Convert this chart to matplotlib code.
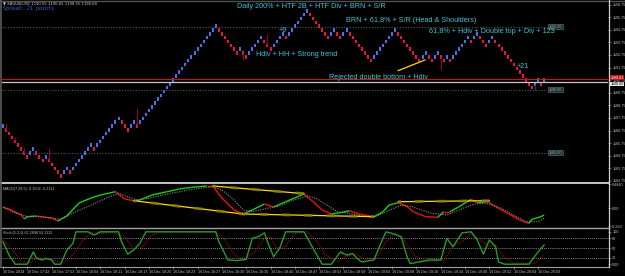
import numpy as np
import matplotlib.pyplot as plt
from matplotlib.lines import Line2D
from matplotlib.collections import LineCollection
from matplotlib.transforms import blended_transform_factory

W, H = 625, 276

# Renko bricks: signed run lengths (+ up brick, - down brick)
brick_runs = [1, -8, 2, -3, 1, -5, 2, -1, 7, -1, 8, -3, 2, -1, 26,
              -7, 1, -2, 5, -3, 4, -1, 7,
              -7, 2, -2, 2, -8, 8, -8, 2, -2, 2, -2, 1, -1, 6,
              -1, 2, -3, 2, -13, 2, -1, 1]
start_price = 1186.80
brick_size = 0.305
wick_bricks = [1, 4, 7, 15, 44, 79, 87, 144, 175]
wick_tips = [1187.35, 1186.22, 1185.37, 1185.37, 1188.54, 1192.32, 1194.43, 1191.53, 1189.94]

price_ticks = [1196.75 - k for k in range(15)]
round_levels = [1195.0, 1190.0, 1185.0]
bid_price = 1190.81
ask_price = 1190.60

# MACD main line and signal, read at brick index
macd_idx = [0, 2, 6, 7, 8, 11, 13, 16, 18, 21, 25, 29, 32, 37, 40, 43, 45, 49, 54, 58,
            62, 67, 69, 72, 76, 79, 82, 86, 89, 93, 99, 102, 105, 108, 111, 114, 117,
            122, 125, 127, 130, 133, 135, 139, 143, 145, 147, 150, 154, 156, 159, 160,
            163, 167, 170, 173, 174, 177, 178]
macd_val = [0.014, -0.020, -0.141, -0.222, -0.175, -0.161, -0.182, -0.202, -0.262,
            -0.161, 0.101, 0.202, 0.262, 0.329, 0.181, 0.147, 0.161, 0.262, 0.329,
            0.383, 0.417, 0.444, 0.444, 0.202, -0.040, -0.121, -0.040, 0.081, 0.020,
            0.127, 0.282, 0.127, -0.040, -0.121, -0.095, -0.054, -0.121, -0.175,
            -0.075, 0.060, 0.107, 0.026, -0.075, -0.175, -0.188, -0.075, -0.075,
            0.026, 0.175, 0.107, 0.127, 0.107, -0.006, -0.141, -0.242, -0.309,
            -0.228, -0.175, -0.141]
sig_idx = [0, 3, 8, 13, 19, 23, 29, 35, 38, 41, 44, 48, 54, 61, 67, 69, 72, 76, 79,
           82, 87, 91, 95, 100, 103, 107, 110, 114, 118, 122, 126, 131, 135, 136,
           141, 146, 150, 155, 159, 164, 168, 172, 176, 178]
sig_val = [0.014, -0.075, -0.175, -0.175, -0.228, -0.101, 0.060, 0.228, 0.296, 0.228,
           0.161, 0.196, 0.282, 0.363, 0.417, 0.430, 0.363, 0.161, -0.040, -0.075,
           -0.006, 0.040, 0.147, 0.242, 0.196, 0.040, -0.075, -0.107, -0.161, -0.188,
           -0.075, 0.060, 0.026, -0.006, -0.107, -0.141, -0.040, 0.081, 0.095,
           -0.006, -0.141, -0.276, -0.276, -0.208]
macd_trend_lines = [((43, 0.147), (79, -0.121)), ((79, -0.121), (122, -0.175)),
                    ((69, 0.444), (99, 0.290)), ((130, 0.127), (160, 0.147))]

# Stochastic main and signal
stoch_idx = [0, 2, 4, 8, 10, 11, 13, 14, 16, 17, 19, 21, 23, 24, 28, 30, 32, 38, 39,
             41, 43, 45, 47, 70, 71, 74, 77, 80, 82, 84, 86, 87, 89, 91, 93, 99, 102,
             105, 108, 111, 113, 115, 117, 118, 122, 125, 126, 128, 131, 133, 134,
             137, 140, 144, 146, 148, 151, 154, 156, 158, 160, 162, 163, 165, 173,
             176, 178]
stoch_val = [69, 28, 0, 0, 38, 18, 13, 18, 13, 0, 0, 44, 64, 100, 100, 90, 100, 100,
             69, 31, 44, 64, 100, 100, 69, 13, 11, 15, 80, 85, 97, 69, 23, 49, 100,
             100, 49, 0, 0, 38, 28, 33, 13, 7, 13, 80, 100, 95, 85, 20, 2, 7, 13, 13,
             80, 54, 97, 100, 75, 31, 75, 54, 7, 0, 0, 38, 59]
ssig_idx = [0, 3, 6, 9, 11, 14, 17, 20, 23, 26, 29, 32, 36, 40, 43, 46, 49, 52, 70,
            73, 76, 79, 83, 86, 88, 90, 93, 96, 100, 103, 106, 110, 113, 116, 119,
            123, 126, 129, 132, 135, 138, 142, 145, 148, 151, 154, 157, 160, 162,
            165, 168, 175, 178]
ssig_val = [75, 45, 10, 3, 20, 18, 12, 3, 30, 70, 97, 95, 98, 85, 45, 55, 90, 100,
            100, 75, 30, 12, 40, 80, 85, 50, 55, 95, 100, 75, 30, 8, 25, 30, 15, 20,
            70, 95, 75, 30, 8, 10, 12, 55, 70, 95, 75, 55, 60, 20, 3, 3, 30]

date_labels = ["16 Dec 2014", "16 Dec 17:42", "16 Dec 17:53", "16 Dec 18:04",
               "16 Dec 18:11", "16 Dec 18:17", "16 Dec 18:20", "16 Dec 18:23",
               "16 Dec 18:27", "16 Dec 18:30", "16 Dec 18:35", "16 Dec 18:40",
               "16 Dec 18:47", "16 Dec 18:53", "16 Dec 18:58", "16 Dec 19:03",
               "16 Dec 19:08", "16 Dec 19:16", "16 Dec 19:24", "16 Dec 19:40",
               "16 Dec 19:52", "16 Dec 20:04", "16 Dec 20:09"]

notes = [("Daily 200% + HTF 2B + HTF Div + BRN + S/R", 77, 1196.58),
         ("BRN + 61,8% + S/R (Head & Shoulders)", 112.7, 1195.46),
         ("61,8% + Hdiv + Double top + Div + 123", 140.1, 1194.59),
         ("+9", 90.8, 1194.67),
         ("Hdiv + HH + Strong trend", 83.2, 1192.80),
         ("+21", 168.8, 1191.81),
         ("Rejected double bottom + Hdiv", 107.2, 1190.97)]

BLUE = "#4a70e8"
RED = "#e8143c"
TEAL = "#3fc3d6"
GRAY = "#c0c0c0"
TINY = 2.7

plt.rcParams['font.family'] = ['Liberation Sans', 'DejaVu Sans']
fig = plt.figure(figsize=(W / 100, H / 100), dpi=100, facecolor="black")

XL = ((2 - 3) / 3.04, (608 - 3) / 3.04)


def panel(x0, y0, x1, y1):
    ax = fig.add_axes([x0 / W, 1 - y1 / H, (x1 - x0) / W, (y1 - y0) / H])
    ax.set_facecolor("black")
    for s in ax.spines.values():
        s.set_visible(False)
    ax.set_xlim(*XL)
    ax.yaxis.tick_right()
    ax.tick_params(axis="y", colors="#808080", labelcolor=GRAY, labelsize=TINY,
                   length=2, width=0.5, pad=1)
    ax.tick_params(axis="x", bottom=False, labelbottom=False)
    return ax


def hline(y, x0, x1, color, lw=1.0):
    fig.add_artist(Line2D([x0 / W, x1 / W], [1 - y / H, 1 - y / H],
                          transform=fig.transFigure, color=color, lw=lw))


# ---- main renko window
ax = panel(2, 2, 608, 182)
ax.set_ylim(1182.663, 1196.95)
steps = np.concatenate([np.full(abs(r), np.sign(r)) for r in brick_runs])
closes = start_price + np.cumsum(steps) * brick_size
idx = np.arange(len(closes))
up = steps > 0

for b, tip in zip(wick_bricks, wick_tips):
    ax.vlines(b, closes[b], tip, color="#1e3c9a" if up[b] else "#8c0a1e", lw=0.8)
ax.bar(idx[up], brick_size * 0.92, bottom=closes[up] - brick_size * 0.46,
       width=0.66, color=BLUE, linewidth=0)
ax.bar(idx[~up], brick_size * 0.92, bottom=closes[~up] - brick_size * 0.46,
       width=0.66, color=RED, linewidth=0)

ax.set_yticks(price_ticks)
ax.set_yticklabels([f"{p:.2f}" for p in price_ticks])

for lvl in round_levels:
    ax.plot([XL[0], 179], [lvl, lvl], color="#4a5a5a", lw=0.8, ls=(0, (1, 1.5)))
    ax.text(179.6, lvl, f"{lvl:.2f}", fontsize=TINY, color="#9aa", va="center",
            ha="left", bbox=dict(facecolor="#1c3232", edgecolor="#4a6a6a", pad=0.6, lw=0.5))
ax.axhline(bid_price, color="#b41e1e", lw=0.9)
ax.axhline(ask_price, color="#c8c8c8", lw=0.9)
tr = blended_transform_factory(ax.transAxes, ax.transData)
ax.text(1.004, bid_price + 0.14, f"{bid_price:.2f}", transform=tr, fontsize=TINY,
        color="white", va="center", ha="left",
        bbox=dict(facecolor="#c01414", edgecolor="none", pad=0.2))
ax.text(1.004, ask_price - 0.16, f"{ask_price:.2f}", transform=tr, fontsize=TINY,
        color="black", va="center", ha="left",
        bbox=dict(facecolor="#e8e8e8", edgecolor="none", pad=0.2))

ax.plot([130, 138.8], [1191.50, 1192.35], color="#ffd700", lw=0.9)
for txt, x, y in notes:
    ax.text(x, y, txt, color=TEAL, fontsize=5.2, va="center", ha="left")

# ---- MACD window
am = panel(2, 184, 608, 226)
am.set_ylim(-0.363, 0.484)
pts = np.column_stack([macd_idx, macd_val])
segs = np.stack([pts[:-1], pts[1:]], axis=1)
cols = ["#18d018" if b > a else "#f01010" for a, b in zip(macd_val[:-1], macd_val[1:])]
am.add_collection(LineCollection(segs, colors=cols, lw=1.0))
am.plot(sig_idx, sig_val, color="#8c8c8c", lw=0.8, ls=(0, (1, 1.2)))
for (xa, ya), (xb, yb) in macd_trend_lines:
    am.plot([xa, xb], [ya, yb], color="#ffd700", lw=0.9)
    am.plot([xa, xb], [ya, yb], color="#8a7a10", lw=2.0, ls=(2, (3, 5)), alpha=0.9)
am.set_yticks([0.484, 0.0, -0.363])
am.set_yticklabels(["0.4840", "0.00", "-0.363"])
am.text(0.002, 0.93, "MACD(7,28,5) -0.1502 -0.2111", transform=am.transAxes,
        fontsize=TINY, color=GRAY, va="top", ha="left")

# ---- Stochastic window
ast = panel(2, 229, 608, 266)
ast.set_ylim(-5.6, 108.7)
for lvl in (80, 50, 20):
    ast.axhline(lvl, color="#b4b4b4", lw=0.6, ls=(0, (1, 1.5)))
ast.plot(ssig_idx, ssig_val, color="#a01010", lw=0.8, ls=(0, (1, 1)))
ast.plot(stoch_idx, stoch_val, color="#2a9a2a", lw=1.0)
ast.set_yticks([100, 80, 50, 20, 0])
ast.set_yticklabels(["100", "80", "50", "20", "0.00"])
ast.text(0.002, 0.95, "Stoch(5,3,3) 61.2698 53.1112", transform=ast.transAxes,
         fontsize=TINY, color=GRAY, va="top", ha="left")
ast.set_xticks(range(0, 8 * len(date_labels), 8))
ast.set_xticklabels(date_labels)
ast.tick_params(axis="x", bottom=True, labelbottom=True, labelsize=TINY,
                labelcolor=GRAY, color="#909090", length=2, width=0.5, pad=1)
for t in ast.get_xticklabels():
    t.set_ha("left")

# ---- frame lines and header
hline(0.5, 0, 625, "#505050")
hline(182.9, 0, 608.5, "#e6e6e6", 1.2)
hline(227.6, 0, 608.5, "#a0a0a0", 1.0)
hline(266.6, 0, 608.5, "#a0a0a0", 0.8)
fig.add_artist(Line2D([608.5 / W] * 2, [1 - 266.6 / H, 1.0], transform=fig.transFigure,
                      color="#d0d0d0", lw=0.9))
fig.add_artist(Line2D([0.8 / W] * 2, [1 - 266.6 / H, 1.0], transform=fig.transFigure,
                      color="#5a5a5a", lw=1.2))

fig.text(3 / W, 1 - 3.5 / H, "\u25bc XAUUSD,M2 1190.55 1190.81 1190.55 1190.60",
         fontsize=TINY, color="#d0d0d0", va="center", ha="left", family="DejaVu Sans")
fig.text(3 / W, 1 - 8.6 / H, "Spread: 21 points", fontsize=3.6, color="#3c64dc",
         va="center", ha="left", family="DejaVu Sans Mono")

fig.savefig("out.png", dpi=100, facecolor="black")
